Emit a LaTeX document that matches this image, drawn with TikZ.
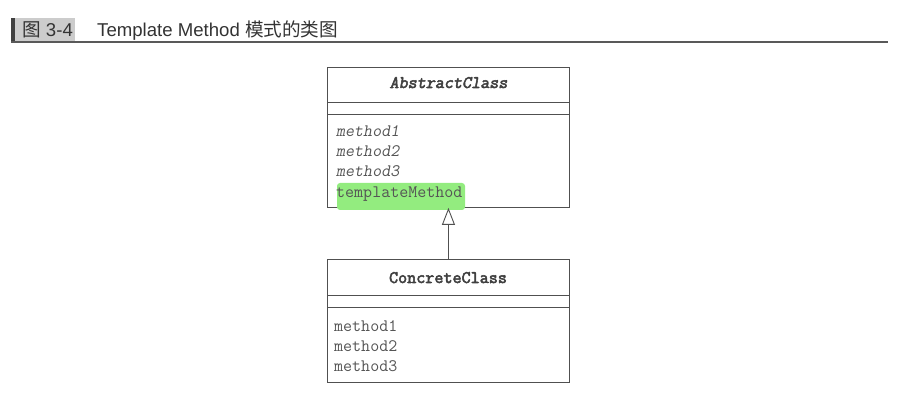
\documentclass[tikz,border=0pt]{standalone}
\usepackage{fontspec}
\setsansfont{Liberation Sans}
\newfontfamily\cjk{Noto Sans CJK SC}
\newfontfamily\monoreg{Latin Modern Mono}
\newfontfamily\monoslant[FakeSlant=0.18]{Latin Modern Mono}
\newfontfamily\monobold[FakeBold=3]{Latin Modern Mono}
\newfontfamily\monoboldslant[FakeBold=3,FakeSlant=0.18]{Latin Modern Mono}
\usetikzlibrary{arrows.meta}
\definecolor{ink}{HTML}{505050}
\definecolor{txt}{HTML}{555555}
\definecolor{hl}{HTML}{93EC7F}
\tikzset{
  classbox/.style={draw=ink, line width=0.9pt, rectangle, minimum width=242pt, inner sep=0pt, anchor=north west},
  sep/.style={draw=ink, line width=0.9pt},
  mtext/.style={anchor=base west, inner sep=0pt, text=txt, font=\monoreg\fontsize{17.5}{20}\selectfont},
  itext/.style={mtext, font=\monoslant\fontsize{17.5}{20}\selectfont},
  ctitle/.style={anchor=base, inner sep=0pt, text=black!75, font=\monobold\fontsize{17.6}{20}\selectfont},
  atitle/.style={ctitle, font=\monoboldslant\fontsize{17.6}{20}\selectfont},
  htext/.style={anchor=base west, inner sep=0pt, text=black!80, font=\sffamily\fontsize{18.6}{20}\selectfont},
  inherit/.style={draw=ink, line width=0.9pt, -{Triangle[open, length=17pt, width=13pt, line width=0.9pt]}}
}
\begin{document}
\begin{tikzpicture}[x=1pt,y=-1pt]
\useasboundingbox (0,0) rectangle (905,411);
% header
\fill[black!20] (15,18) rectangle (75,42);
\fill[black!75] (11,18) rectangle (15,42);
\draw[black!65, line width=1.3pt] (11,42) -- (888,42);
\node[htext] (fignum) at (22,37) {{\cjk 图} 3-4};
\node[htext] (figtitle) at (97,37) {Template Method {\cjk 模式的类图}};
% abstract class
\node[classbox, minimum height=140pt] (abs) at (327,67) {};
\draw[sep] (327,102) -- (570,102);
\draw[sep] (327,114) -- (570,114);
\node[atitle] (absname) at (448.5,88) {AbstractClass};
\node[itext] (am1) at (336,137) {method1};
\node[itext] (am2) at (336,157) {method2};
\node[itext] (am3) at (336,177) {method3};
% highlight
\fill[hl, rounded corners=3pt] (337,183) rectangle (465,210);
\node[mtext] (atm) at (336,198) {templateMethod};
% concrete class
\node[classbox, minimum height=123pt] (con) at (327,259) {};
\draw[sep] (327,295) -- (569,295);
\draw[sep] (327,307) -- (569,307);
\node[ctitle] (conname) at (448,283) {ConcreteClass};
\node[mtext] (cm1) at (334,332) {method1};
\node[mtext] (cm2) at (334,352) {method2};
\node[mtext] (cm3) at (334,372) {method3};
% inheritance
\draw[inherit] (con.north) -- (abs.south);
\end{tikzpicture}
\end{document}
